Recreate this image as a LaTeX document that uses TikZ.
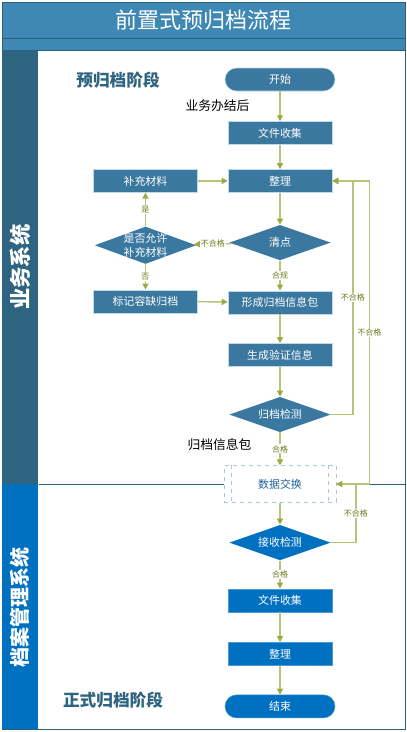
\documentclass[tikz,border=0pt]{standalone}
\usepackage{fontspec}
\setmainfont{Noto Sans CJK SC}
\usepackage{xcolor}
\usetikzlibrary{arrows.meta, positioning, shapes.geometric}
\definecolor{headfill}{HTML}{4088B4}
\definecolor{frameline}{HTML}{2A6079}
\definecolor{lanedark}{HTML}{2E6480}
\definecolor{laneblue}{HTML}{0070C0}
\definecolor{boxfill}{HTML}{3A78A0}
\definecolor{boxline}{HTML}{BFD9E6}
\definecolor{flowline}{HTML}{B9C27A}
\definecolor{flowtip}{HTML}{9DAA3F}
\definecolor{lblcolor}{HTML}{6F7A1E}
\definecolor{swapline}{HTML}{A9C8D8}
\definecolor{swaptext}{HTML}{1F639A}
\tikzset{
  blk/.style   = {draw=boxline, fill=boxfill, text=white, align=center, inner sep=0pt,
                  font=\fontsize{8.2pt}{10pt}\selectfont, minimum width=78pt, minimum height=17.25pt},
  acc/.style   = {blk, draw=laneblue!70, fill=laneblue},
  pill/.style  = {rounded corners=8.6pt},
  dia/.style   = {diamond, aspect=2.9, draw=none, fill=boxfill, text=white, align=center, inner xsep=-8pt, inner ysep=-3pt,
                  font=\fontsize{8.2pt}{10pt}\selectfont, minimum width=76pt, minimum height=26.5pt},
  flow/.style  = {-{Triangle[length=4.5pt,width=4.5pt,color=flowtip]}, draw=flowline, line width=1.1pt},
  lbl/.style   = {fill=white, text=lblcolor, inner sep=.6pt, font=\fontsize{6pt}{7pt}\selectfont},
  note/.style  = {inner sep=0pt, font=\fontsize{9.6pt}{11pt}\selectfont},
  stage/.style = {inner sep=0pt, text=lanedark, font=\fontsize{12.5pt}{14pt}\selectfont\bfseries},
  lane/.style  = {inner sep=0pt, minimum width=27.5pt, anchor=north west, text=white},
  lanetxt/.style = {rotate=90, text=white, inner sep=0pt, font=\fontsize{16pt}{18pt}\selectfont\bfseries}
}
\begin{document}
\begin{tikzpicture}[x=.75pt, y=-.75pt]
  \useasboundingbox (0,0) rectangle (407,732);

  % frame, header and lanes
  \node[draw=frameline, fill=white, line width=1pt, minimum width=302.25pt, minimum height=545.5pt,
        inner sep=0pt, anchor=north west] (frame) at (1.5,1.5) {};
  \node[draw=frameline, fill=headfill, minimum width=302.25pt, minimum height=27pt, inner sep=0pt,
        anchor=north west, text=white, font=\fontsize{16.5pt}{18pt}\selectfont] (title) at (1.5,1.5) {前置式预归档流程};
  \node[draw=frameline, fill=headfill, minimum width=302.25pt, minimum height=9.5pt, inner sep=0pt,
        anchor=north west] (band) at (1.5,37.5) {};
  \node[lane, fill=lanedark, minimum height=325pt] (upper) at (1.5,50) {};
  \node[lane, fill=laneblue, minimum height=183.75pt] (lower) at (1.5,483.5) {};
  \node[lanetxt] (uppertxt) at (20,267) {业务系统};
  \node[lanetxt, font=\fontsize{15pt}{18pt}\selectfont\bfseries] (lowertxt) at (19.5,607) {档案管理系统};

  % main column
  \node[blk, pill, minimum width=82.5pt] (start) at (280,79.5) {开始};
  \node[blk, below=22.5pt of start] (collect) {文件收集};
  \node[blk, below=18.25pt of collect] (sort) {整理};
  \node[dia, below=24pt of sort] (count) {清点};
  \node[blk, below=22.5pt of count] (pack) {形成归档信息包};
  \node[blk, below=21.75pt of pack] (verify) {生成验证信息};
  \node[dia, below=22.5pt of verify] (archchk) {归档检测};
  \node[draw=swapline, fill=white, dashed, text=swaptext, inner sep=0pt, minimum width=84pt, minimum height=27.5pt,
        font=\fontsize{8.2pt}{10pt}\selectfont, below=24.75pt of archchk] (swap) {数据交换};
  \node[dia, fill=laneblue, below=16.5pt of swap] (recvchk) {接收检测};
  \node[acc, below=21pt of recvchk] (collect2) {文件收集};
  \node[acc, below=22.5pt of collect2] (sort2) {整理};
  \node[acc, pill, minimum width=82.5pt, below=21.75pt of sort2] (finish) {结束};

  % side column
  \node[blk, left=22.5pt of sort] (supply) {补充材料};
  \node[dia, left=24.5pt of count, yshift=-2pt, minimum height=28pt] (allow) {是否允许\\补充材料};
  \node[blk, left=22.5pt of pack, yshift=.75pt] (mark) {标记容缺归档};

  % free texts
  \node[stage] (stage1) at (118,80) {预归档阶段};
  \node[stage] (stage2) at (113,700) {正式归档阶段};
  \node[note] (done) at (217.5,106) {业务办结后};
  \node[note] (infopkg) at (219.5,445) {归档信息包};

  % dividers
  \draw[frameline, line width=.8pt] (upper.east |- swap.west) -- (swap.west);
  \draw[frameline, line width=.8pt] (swap.east) -- (frame.east |- swap.east);
  \draw[swapline, dashed] ([xshift=6pt]swap.north west) -- ([xshift=6pt]swap.south west);
  \draw[swapline, dashed] ([xshift=-6pt]swap.north east) -- ([xshift=-6pt]swap.south east);

  % connectors
  \draw[flow] (start) -- (collect);
  \draw[flow] (collect) -- (sort);
  \draw[flow] (sort) -- (count);
  \draw[flow] (count) -- node[lbl] {合规} (pack);
  \draw[flow] (pack) -- (verify);
  \draw[flow] (verify) -- (archchk);
  \draw[flow] (archchk) -- node[lbl] {合格} (swap);
  \draw[flow] (swap) -- (recvchk);
  \draw[flow] (recvchk) -- node[lbl] {合格} (collect2);
  \draw[flow] (collect2) -- (sort2);
  \draw[flow] (sort2) -- (finish);
  \draw[flow] (supply) -- (sort);
  \draw[flow] (mark) -- (pack);
  \draw[flow] (count) -- node[lbl] {不合格} (allow);
  \draw[flow] (allow) -- node[lbl] {是} (supply);
  \draw[flow] (allow) -- node[lbl] {否} (mark);
  \draw[flow] (archchk.east) -- ++(22,0) |- node[lbl, pos=.25] {不合格} (sort.east);
  \draw[flow] (swap.east) -- ++(33,0) |- node[lbl, pos=.25] {不合格} (sort.east);
  \draw[flow] (recvchk.east) -- ++(25,0) |- node[lbl, pos=.25] {不合格} (swap.east);
\end{tikzpicture}
\end{document}
